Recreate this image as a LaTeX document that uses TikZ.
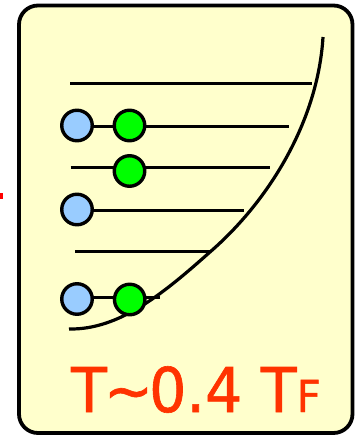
\documentclass[tikz,border=0pt]{standalone}
\usepackage{fontspec}
\newfontfamily\labelfont[FakeBold=1,FakeStretch=0.95]{DejaVu Sans}
\definecolor{panelfill}{RGB}{255,255,204}
\definecolor{holeblue}{RGB}{153,204,255}
\definecolor{partgreen}{RGB}{0,255,0}
\definecolor{labelred}{RGB}{255,51,0}
\tikzset{
  panel/.style={draw=black, line width=3.8pt, fill=panelfill, rounded corners=19pt},
  level/.style={draw=black, line width=3pt},
  well/.style={draw=black, line width=3.2pt},
  particle/.style={circle, draw=black, line width=3.4pt, minimum size=30.5pt, inner sep=0pt},
  bluep/.style={particle, fill=holeblue},
  greenp/.style={particle, fill=partgreen},
}
\begin{document}
\begin{tikzpicture}[x=1pt, y=-1pt]
\useasboundingbox (0,0) rectangle (358,437);

% small red mark at the left edge
\fill[red] (0,193) rectangle (3.3,199);

% panel
\draw[panel] (19,5.5) rectangle (352.5,433);

% energy levels
\coordinate (l1a) at (70,83);   \coordinate (l1b) at (312,83);
\coordinate (l2a) at (77,126);  \coordinate (l2b) at (289,126);
\coordinate (l3a) at (70.5,167.5); \coordinate (l3b) at (270,167.5);
\coordinate (l4a) at (77,210);  \coordinate (l4b) at (244,210);
\coordinate (l5a) at (75,251.5); \coordinate (l5b) at (210,251.5);
\coordinate (l6a) at (77,297);  \coordinate (l6b) at (160,297);
\draw[level] (l1a) -- (l1b);
\draw[level] (l2a) -- (l2b);
\draw[level] (l3a) -- (l3b);
\draw[level] (l4a) -- (l4b);
\draw[level] (l5a) -- (l5b);
\draw[level] (l6a) -- (l6b);

% trap potential
\coordinate (wbot) at (69,329);
\coordinate (wmid) at (210,252);
\coordinate (wtop) at (323,37);
\draw[well] (wbot) .. controls (120,330) and (165,292) .. (wmid)
                   .. controls (270,200) and (318,120) .. (wtop);

% particles
\node[bluep]  (b1) at (77,125.5) {};
\node[greenp] (g1) at (129.5,125.5) {};
\node[greenp] (g2) at (129.5,171) {};
\node[bluep]  (b2) at (77,209.5) {};
\node[bluep]  (b3) at (77,299) {};
\node[greenp] (g3) at (129.7,299.5) {};

% temperature label
\node[anchor=base west, inner sep=0pt, text=labelred] (lab) at (71,412)
  {\labelfont\fontsize{61.7}{70}\selectfont
   T\kern-3pt\char`~\kern-4pt 0.4 T\fontsize{44}{50}\selectfont F};
\end{tikzpicture}
\end{document}
